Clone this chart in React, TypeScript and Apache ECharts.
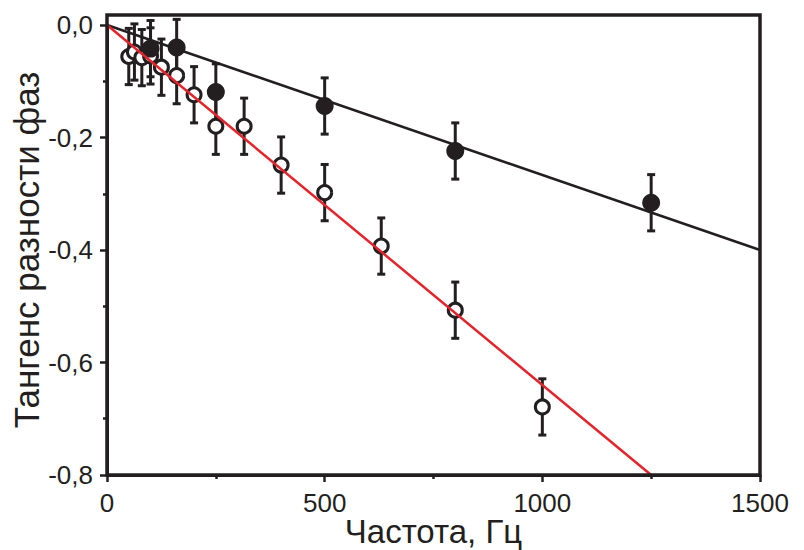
import React, { useEffect, useRef } from "react";
import * as echarts from "echarts";

// Open circles (red fit)
const openFreq = [50, 63, 80, 100, 125, 160, 200, 250, 315, 400, 500, 630, 800, 1000];
const openTan = [-0.056, -0.048, -0.058, -0.055, -0.075, -0.09, -0.124, -0.18, -0.18, -0.249, -0.298, -0.393, -0.507, -0.679];
// Filled circles (black fit)
const filledFreq = [100, 160, 250, 500, 800, 1250];
const filledTan = [-0.042, -0.04, -0.119, -0.144, -0.224, -0.316];
// Error half-width
const errHalf = 0.05;
// Fit lines
const blackFitX = [0, 1500];
const blackFitY = [0, -0.4];
const redFitX = [0, 1250];
const redFitY = [0, -0.8];

const xTicks = [0, 500, 1000, 1500];
const yTicks = [-0.8, -0.6, -0.4, -0.2, 0];

const INK = "#231f20";
const RED = "#e5232b";
const FONT = "'Liberation Sans', Arial, sans-serif";

export default function App() {
  const ref = useRef<HTMLDivElement>(null);
  useEffect(() => {
    document.body.style.margin = "0";
    if (!ref.current) return;
    const chart = echarts.init(ref.current, undefined, { renderer: "svg" });

    const errData = [
      ...openFreq.map((f, i) => [f, openTan[i] - errHalf, openTan[i] + errHalf]),
      ...filledFreq.map((f, i) => [f, filledTan[i] - errHalf, filledTan[i] + errHalf]),
    ];

    const gridLeft = 107, gridRight = 44, gridTop = 25, gridBottom = 75;

    chart.setOption({
      animation: false,
      backgroundColor: "#ffffff",
      grid: {
        left: gridLeft,
        right: gridRight,
        top: gridTop,
        bottom: gridBottom,
        containLabel: false,
        outerBoundsMode: "none",
      },
      xAxis: {
        type: "value",
        min: xTicks[0],
        max: xTicks[xTicks.length - 1],
        interval: 500,
        name: "Частота, Гц",
        nameLocation: "middle",
        nameGap: 40,
        nameMoveOverlap: false,
        nameTextStyle: { fontFamily: FONT, fontSize: 33, color: INK },
        axisLine: { show: true, onZero: false, lineStyle: { color: INK, width: 3 } },
        axisTick: { show: true, inside: false, length: 7, lineStyle: { color: INK, width: 2.5 } },
        minorTick: { show: true, splitNumber: 2, length: 4, lineStyle: { color: INK, width: 2.5 } },
        axisLabel: {
          fontFamily: FONT,
          fontSize: 26,
          color: INK,
          margin: 15,
          formatter: (v: number) => String(Math.round(v)),
        },
        splitLine: { show: false },
      },
      yAxis: {
        type: "value",
        min: yTicks[0],
        max: yTicks[yTicks.length - 1],
        interval: 0.2,
        name: "Тангенс разности фаз",
        nameLocation: "middle",
        nameGap: 63,
        nameMoveOverlap: false,
        nameTextStyle: { fontFamily: FONT, fontSize: 35, color: INK },
        axisLine: { show: true, onZero: false, lineStyle: { color: INK, width: 3 } },
        axisTick: { show: true, inside: false, length: 7, lineStyle: { color: INK, width: 2.5 } },
        minorTick: { show: true, splitNumber: 2, length: 4, lineStyle: { color: INK, width: 2.5 } },
        axisLabel: {
          fontFamily: FONT,
          fontSize: 26,
          color: INK,
          margin: 14,
          formatter: (v: number) => v.toFixed(1).replace(".", ","),
        },
        splitLine: { show: false },
      },
      graphic: [
        {
          type: "rect",
          z: 100,
          shape: { x: gridLeft, y: 15, width: 804 - gridLeft - gridRight, height: 550 - gridBottom - 15 },
          style: { fill: "none", stroke: INK, lineWidth: 3.5 },
          silent: true,
        },
      ],
      series: [
        {
          type: "custom",
          name: "errors",
          z: 2,
          clip: false,
          data: errData,
          renderItem: (params: any, api: any) => {
            const x = api.value(0);
            const lo = api.coord([x, api.value(1)]);
            const hi = api.coord([x, api.value(2)]);
            const cap = 4;
            const style = { stroke: INK, lineWidth: 3 };
            return {
              type: "group",
              children: [
                { type: "line", shape: { x1: lo[0], y1: lo[1], x2: hi[0], y2: hi[1] }, style },
                { type: "line", shape: { x1: lo[0] - cap, y1: lo[1], x2: lo[0] + cap, y2: lo[1] }, style },
                { type: "line", shape: { x1: hi[0] - cap, y1: hi[1], x2: hi[0] + cap, y2: hi[1] }, style },
              ],
            };
          },
        },
        {
          type: "scatter",
          name: "open",
          z: 3,
          symbol: "circle",
          symbolSize: 14,
          itemStyle: { color: "#ffffff", borderColor: INK, borderWidth: 3, opacity: 1 },
          data: openFreq.map((f, i) => [f, openTan[i]]),
        },
        {
          type: "scatter",
          name: "filled",
          z: 3,
          symbol: "circle",
          symbolSize: 18,
          itemStyle: { color: INK, opacity: 1 },
          data: filledFreq.map((f, i) => [f, filledTan[i]]),
        },
        {
          type: "line",
          name: "fitBlack",
          z: 4,
          symbol: "none",
          lineStyle: { color: INK, width: 2.5 },
          data: blackFitX.map((x, i) => [x, blackFitY[i]]),
        },
        {
          type: "line",
          name: "fitRed",
          z: 4,
          symbol: "none",
          lineStyle: { color: RED, width: 2.5 },
          data: redFitX.map((x, i) => [x, redFitY[i]]),
        },
      ],
    });
    return () => chart.dispose();
  }, []);
  return <div ref={ref} style={{ width: 804, height: 550 }} />;
}
